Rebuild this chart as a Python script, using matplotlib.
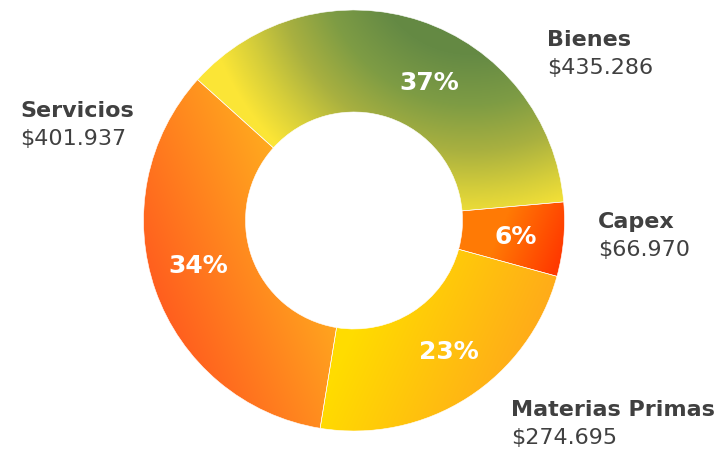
import numpy as np
import matplotlib
matplotlib.use("Agg")
import matplotlib.pyplot as plt
from matplotlib.colors import to_rgb

# data (order: clockwise from upper-left)
categorias = ["Bienes", "Capex", "Materias Primas", "Servicios"]
valores = [435286, 66970, 274695, 401937]

W, H = 718, 449
CX, CY, R, R_IN = 354, 220.5, 210.5, 108.5

# gradient styles per wedge, in image pixels (y down)
gradientes = [
    ("radial", (470, -45), None,
     [(0, "#5f8842"), (100, "#658a44"), (150, "#7e9c44"), (195, "#a8b040"),
      (235, "#d6ce3a"), (270, "#fbe536")]),
    ("linear", (505, 220), (565, 245),
     [(0, "#ff7a05"), (1, "#ff3a00")]),
    ("linear", (360, 320), (540, 400),
     [(0, "#ffdc00"), (1, "#ffa21e")]),
    ("linear", (150, 330), (340, 250),
     [(0, "#ff551e"), (1, "#ffb41e")]),
]

# label positions (image pixels) for category/value text and pct
pos_etiquetas = [(547, 46), (598, 228), (511, 416), (20, 117)]
pos_pct = [(429, 83), (516, 237), (449, 352), (198, 266)]


def fmt_miles(v):
    return "$" + f"{v:,}".replace(",", ".")


def gradient_img(kind, p0, p1, stops):
    xs = np.arange(W) + 0.5
    ys = np.arange(H) + 0.5
    X, Y = np.meshgrid(xs, ys)
    if kind == "radial":
        t = np.hypot(X - p0[0], Y - p0[1])
    else:
        dx, dy = p1[0] - p0[0], p1[1] - p0[1]
        t = ((X - p0[0]) * dx + (Y - p0[1]) * dy) / (dx * dx + dy * dy)
    pos = [s[0] for s in stops]
    cols = np.array([to_rgb(s[1]) for s in stops])
    img = np.zeros((H, W, 3))
    for k in range(3):
        img[..., k] = np.interp(t, pos, cols[:, k])
    return img


fig = plt.figure(figsize=(W / 100, H / 100), dpi=100)
ax = fig.add_axes([0, 0, 1, 1])
ax.set_xlim(0, W)
ax.set_ylim(0, H)
ax.set_aspect("equal")
ax.axis("off")

wedges, _ = ax.pie(valores, startangle=138, counterclock=False,
                   center=(CX, H - CY), radius=R,
                   wedgeprops=dict(width=R - R_IN, edgecolor="white", linewidth=0.4))
ax.set_xlim(0, W)
ax.set_ylim(0, H)

for w, (kind, p0, p1, stops) in zip(wedges, gradientes):
    img = gradient_img(kind, p0, p1, stops)
    im = ax.imshow(img, extent=(0, W, 0, H), origin="upper",
                   interpolation="bilinear", zorder=1)
    im.set_clip_path(w)
    w.set_facecolor("none")
    w.set_zorder(2)

total = sum(valores)
for v, (x, y) in zip(valores, pos_pct):
    ax.text(x, H - y, f"{round(100 * v / total)}%", color="white",
            fontsize=18, fontweight="bold", ha="center", va="center", zorder=3)

for cat, v, (x, y) in zip(categorias, valores, pos_etiquetas):
    ax.text(x, H - y, cat, color="#404040", fontsize=16,
            fontweight="bold", ha="left", va="baseline")
    ax.text(x, H - y - 28, fmt_miles(v), color="#404040", fontsize=16,
            ha="left", va="baseline")

fig.savefig("out.png", dpi=100)
